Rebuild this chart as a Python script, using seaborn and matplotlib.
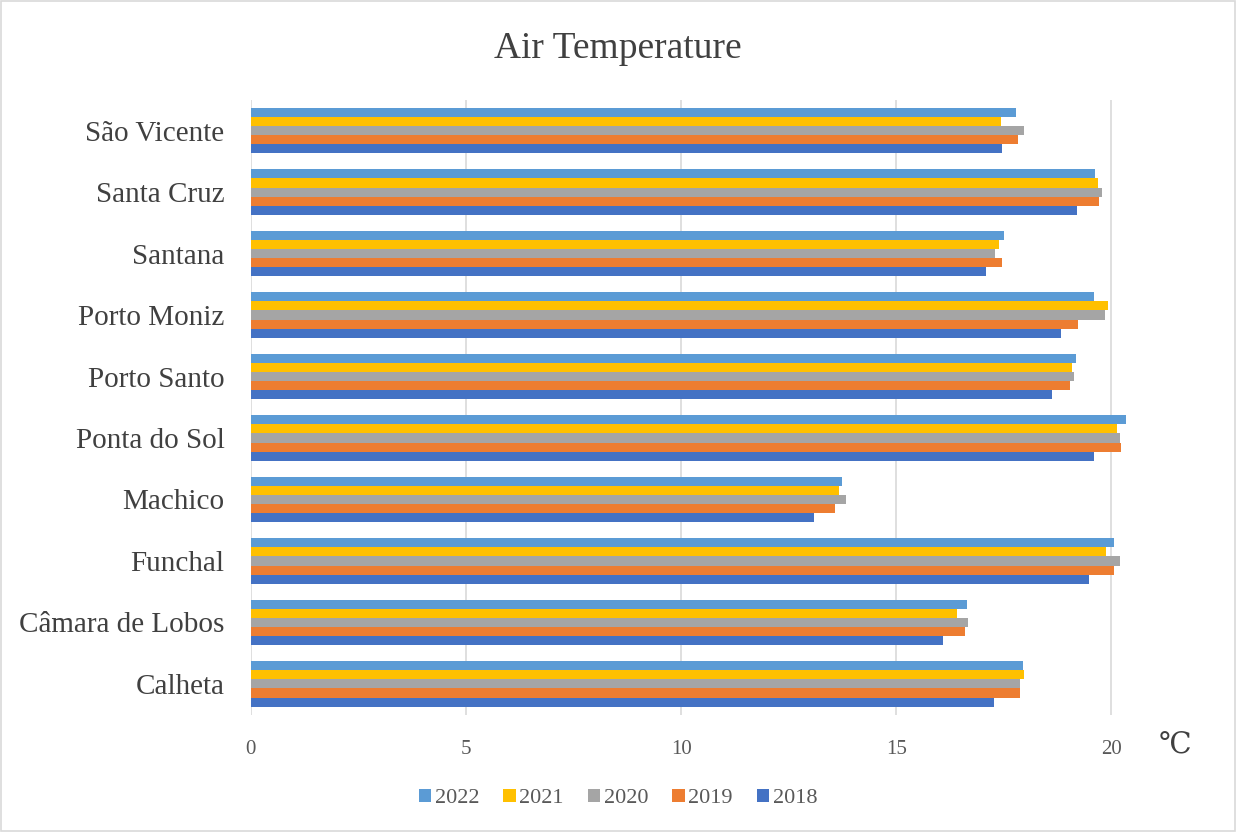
import matplotlib
matplotlib.use("Agg")
import matplotlib.pyplot as plt
import seaborn as sns
import pandas as pd
from matplotlib.patches import Rectangle

stations = ['São Vicente', 'Santa Cruz', 'Santana', 'Porto Moniz', 'Porto Santo',
            'Ponta do Sol', 'Machico', 'Funchal', 'Câmara de Lobos', 'Calheta']
years = ['2022', '2021', '2020', '2019', '2018']

t2022 = [17.78, 19.61, 17.51, 19.59, 19.17, 20.33, 13.74, 20.05, 16.64, 17.95]
t2021 = [17.43, 19.69, 17.38, 19.91, 19.09, 20.13, 13.67, 19.88, 16.40, 17.98]
t2020 = [17.97, 19.77, 17.29, 19.84, 19.14, 20.21, 13.82, 20.20, 16.67, 17.87]
t2019 = [17.84, 19.71, 17.46, 19.22, 19.03, 20.23, 13.58, 20.06, 16.60, 17.87]
t2018 = [17.45, 19.19, 17.09, 18.84, 18.63, 19.60, 13.09, 19.47, 16.09, 17.27]

colors = ['#5B9BD5', '#FFC000', '#A5A5A5', '#ED7D31', '#4472C4']

rows = []
for yr, vals in zip(years, [t2022, t2021, t2020, t2019, t2018]):
    for st, v in zip(stations, vals):
        rows.append([st, yr, v])
df = pd.DataFrame(rows, columns=['station', 'year', 'temp'])

sns.set_theme(style='white')
plt.rcParams['font.family'] = ['Liberation Serif', 'DejaVu Serif']

fig = plt.figure(figsize=(12.36, 8.32), dpi=100)
ax = fig.add_axes([0.203, 0.141, 0.731, 0.739])

sns.barplot(data=df, y='station', x='temp', hue='year', order=stations,
            hue_order=years, palette=colors, orient='h', width=0.74,
            saturation=1, linewidth=0, ax=ax, zorder=3)

ax.set_xlim(0, 21)
ax.set_xticks([0, 5, 10, 15, 20])
ax.grid(axis='x', color='#D9D9D9', linewidth=1.2, zorder=0)
ax.grid(axis='y', visible=False)
for s in ax.spines.values():
    s.set_visible(False)
ax.set_xlabel('')
ax.set_ylabel('')
ax.tick_params(axis='x', length=0, pad=18, labelsize=15, labelcolor='#595959')
ax.tick_params(axis='y', length=0, pad=19, labelsize=21, labelcolor='#404040')

ax.text(1.005, -0.052, '℃', transform=ax.transAxes, fontsize=21,
        color='#404040', ha='left', va='center')

fig.suptitle('Air Temperature', y=0.962, fontsize=27, color='#404040')

ax.legend(loc='center', bbox_to_anchor=(0.5, 0.04), bbox_transform=fig.transFigure,
          ncol=5, frameon=False, fontsize=16, handlelength=0.55, handleheight=0.55,
          handletextpad=0.15, columnspacing=1.1, labelcolor='#595959')

fig.patches.append(Rectangle((0.001, 0.001), 0.998, 0.998, transform=fig.transFigure,
                             fill=False, edgecolor='#D9D9D9', linewidth=1.2))

fig.savefig('out.png', dpi=100)
